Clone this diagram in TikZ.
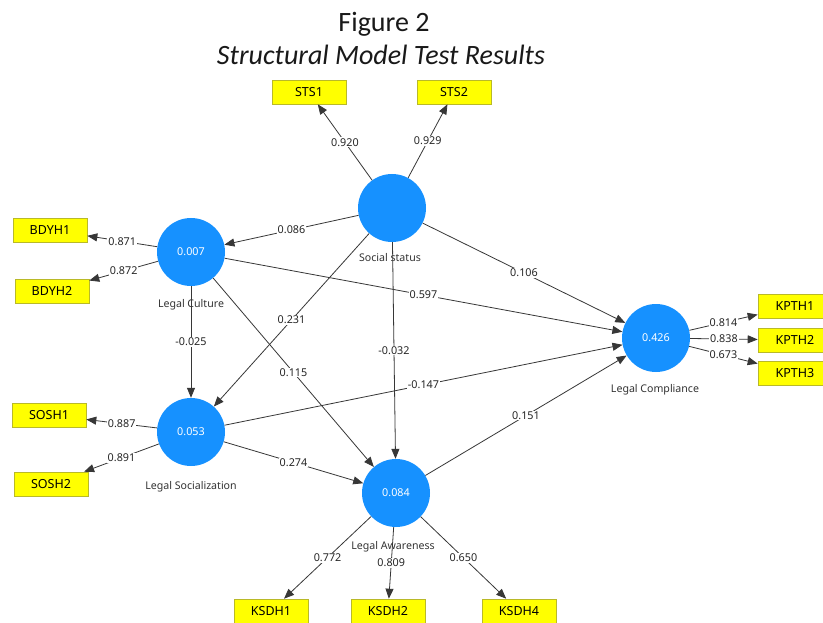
\documentclass[tikz,border=0pt]{standalone}
\usepackage{fontspec}
\setmainfont{Noto Sans}
\newfontfamily\titlefont{Carlito}
\usetikzlibrary{arrows.meta}
\definecolor{lvblue}{RGB}{22,145,255}
\definecolor{ybox}{RGB}{255,255,0}
\definecolor{ybord}{RGB}{185,185,40}
\definecolor{lnc}{RGB}{55,55,55}
\begin{document}
\begin{tikzpicture}[x=1pt,y=-1pt,
 lv/.style={circle,fill=lvblue,minimum size=68pt,inner sep=0pt,text=white,font=\fontsize{10.8}{12}\selectfont},
 ind/.style={rectangle,fill=ybox,draw=ybord,line width=0.6pt,minimum width=74pt,minimum height=24pt,inner sep=0pt,font=\fontsize{12.5}{14}\selectfont},
 lab/.style={font=\fontsize{10.6}{12}\selectfont,text=black!80},
 wl/.style={fill=white,inner sep=1pt,text=black!85,font=\fontsize{10.8}{12}\selectfont},
 arr/.style={draw=lnc,line width=0.8pt,-{Triangle[length=10pt,width=8pt]}}]
\fill[white] (0,0) rectangle (823,623);
\useasboundingbox (0,0) rectangle (823,623);
% title
\node[anchor=base,font=\titlefont\fontsize{28}{30}\selectfont,text=black!90] (t1) at (384,32) {Figure 2};
\node[anchor=base,font=\titlefont\itshape\fontsize{28}{30}\selectfont,text=black!90] (t2) at (381,65) {Structural Model Test Results};
% latent variables
\node[lv] (ss) at (392,208) {};
\node[lv] (lc) at (191,252) {0.007};
\node[lv] (ls) at (191,432) {0.053};
\node[lv] (la) at (396,493) {0.084};
\node[lv] (lp) at (656,338) {0.426};
% latent labels
\node[lab] (ssl) at (390,258) {Social status};
\node[lab] (lcl) at (191,305) {Legal Culture};
\node[lab] (lsl) at (191,487) {Legal Socialization};
\node[lab] (lpl) at (655,390) {Legal Compliance};
% indicators
\node[ind] (sts1) at (309,92) {STS1};
\node[ind] (sts2) at (454,92) {STS2};
\node[ind] (bdyh1) at (50,230) {BDYH1};
\node[ind] (bdyh2) at (52,291) {BDYH2};
\node[ind] (sosh1) at (49,415) {SOSH1};
\node[ind] (sosh2) at (51,484) {SOSH2};
\node[ind] (kpth1) at (795,306) {KPTH1};
\node[ind] (kpth2) at (795,340) {KPTH2};
\node[ind] (kpth3) at (795,373) {KPTH3};
\node[ind] (ksdh1) at (271,611) {KSDH1};
\node[ind] (ksdh2) at (388,611) {KSDH2};
\node[ind] (ksdh4) at (519,611) {KSDH4};
% outer loadings
\draw[arr] (ss) -- node[wl]{0.920} (sts1);
\draw[arr] (ss) -- node[wl]{0.929} (sts2);
\draw[arr] (lc) -- node[wl]{0.871} (bdyh1);
\draw[arr] (lc) -- node[wl]{0.872} (bdyh2);
\draw[arr] (ls) -- node[wl]{0.887} (sosh1);
\draw[arr] (ls) -- node[wl]{0.891} (sosh2);
\draw[arr] (lp) -- node[wl]{0.814} (kpth1);
\draw[arr] (lp) -- node[wl]{0.838} (kpth2);
\draw[arr] (lp) -- node[wl]{0.673} (kpth3);
\draw[arr] (la) -- node[wl]{0.772} (ksdh1);
\draw[arr] (la) -- node[wl]{0.809} (ksdh2);
\draw[arr] (la) -- node[wl]{0.650} (ksdh4);
% label under Legal Awareness drawn after its line
\node[lab] (lal) at (393,547) {Legal Awareness};
% path coefficients
\draw[arr] (ss) -- node[wl]{0.086} (lc);
\draw[arr] (ss) -- node[wl]{0.106} (lp);
\draw[arr] (lc) -- node[wl]{0.597} (lp);
\draw[arr] (ss) -- node[wl]{0.231} (ls);
\draw[arr] (lc) -- node[wl]{-0.025} (ls);
\draw[arr] (ss) -- node[wl]{-0.032} (la);
\draw[arr] (lc) -- node[wl]{0.115} (la);
\draw[arr] (ls) -- node[wl]{-0.147} (lp);
\draw[arr] (ls) -- node[wl]{0.274} (la);
\draw[arr] (la) -- node[wl]{0.151} (lp);
\end{tikzpicture}
\end{document}
